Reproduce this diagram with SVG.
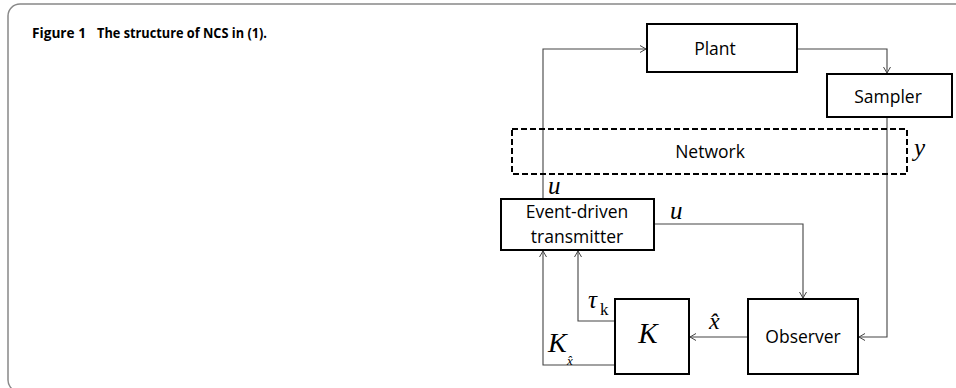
<svg xmlns="http://www.w3.org/2000/svg" width="956" height="388" viewBox="0 0 956 388">
<style>
.box{fill:#fff;stroke:#000;stroke-width:2}
.lbl{font-family:"Open Sans","Liberation Sans",sans-serif;font-size:17.5px;fill:#000;text-anchor:middle}
.ln{fill:none;stroke:#444;stroke-width:1.1}
.m{font-family:"Liberation Serif",serif;font-style:italic;fill:#000}
.r{font-family:"Liberation Serif",serif;font-style:normal;fill:#000}
</style>
<defs>
<marker id="ah" markerUnits="userSpaceOnUse" markerWidth="10" markerHeight="10" refX="7" refY="4" orient="auto">
<path d="M1,0.5 L7,4 L1,7.5" fill="none" stroke="#444" stroke-width="1"/>
</marker>
</defs>
<rect x="8" y="4" width="970" height="388" rx="12" fill="none" stroke="#888" stroke-width="1.5"/>
<text x="32" y="37.5" font-family="'Open Sans','Liberation Sans',sans-serif" font-weight="bold" font-size="14" fill="#000"><tspan textLength="54" lengthAdjust="spacingAndGlyphs">Figure 1</tspan><tspan x="97" textLength="170" lengthAdjust="spacingAndGlyphs">The structure of NCS in (1).</tspan></text>
<g id="connectors">
<polyline class="ln" points="543,199 543,49 646,49" marker-end="url(#ah)"/>
<polyline class="ln" points="797,49 887,49 887,73" marker-end="url(#ah)"/>
<polyline class="ln" points="887,117 887,337 859,337" marker-end="url(#ah)"/>
<polyline class="ln" points="654,224 803,224 803,298" marker-end="url(#ah)"/>
<polyline class="ln" points="748,337 690,337" marker-end="url(#ah)"/>
<polyline class="ln" points="615,321 578,321 578,251" marker-end="url(#ah)"/>
<polyline class="ln" points="615,365 543,365 543,251" marker-end="url(#ah)"/>
</g>
<g id="network">
<rect x="512" y="129" width="395" height="45" fill="none" stroke="#000" stroke-width="2" stroke-dasharray="6,3"/>
<text class="lbl" x="710" y="158">Network</text>
</g>
<g id="plant"><rect class="box" x="647" y="24" width="150" height="48"/><text class="lbl" x="715" y="55" font-size="20">Plant</text></g>
<g id="sampler"><rect class="box" x="827" y="74" width="125" height="43"/><text class="lbl" x="888" y="103" font-size="18.5">Sampler</text></g>
<g id="transmitter"><rect class="box" x="501" y="199" width="153" height="51"/><text class="lbl" x="577" y="218">Event-driven</text><text class="lbl" x="577" y="243">transmitter</text></g>
<g id="k"><rect class="box" x="615" y="299" width="74" height="75"/><text class="m" x="648" y="343" font-size="29" text-anchor="middle">K</text></g>
<g id="observer"><rect class="box" x="748" y="299" width="110" height="75"/><text class="lbl" x="803" y="343">Observer</text></g>
<g id="labels">
<text class="m" x="548" y="194" font-size="25">u</text>
<text class="m" x="670" y="219" font-size="25">u</text>
<text class="m" x="914" y="156" font-size="25">y</text>
<text class="m" x="588" y="308" font-size="25">τ<tspan class="r" x="600" y="315" font-size="17">k</tspan></text>
<text class="m" x="709" y="329" font-size="24">x&#x302;</text>
<text class="m" x="548" y="352" font-size="28">K<tspan x="567" y="365" font-size="13">x&#x302;</tspan></text>
</g>
</svg>
